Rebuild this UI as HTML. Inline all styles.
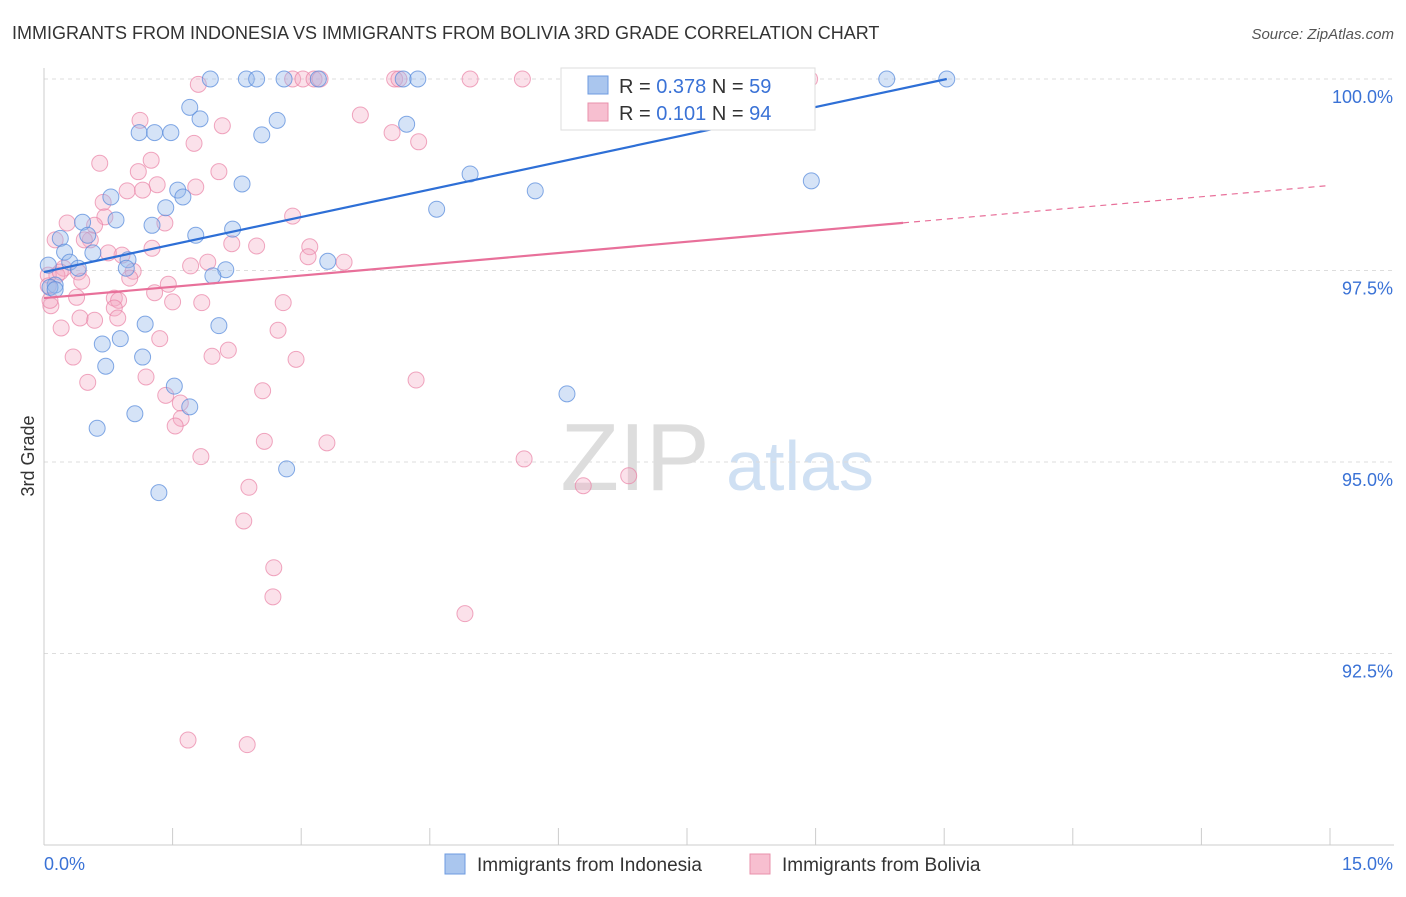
<!DOCTYPE html>
<html><head><meta charset="utf-8"><style>
body{margin:0;background:#fff;font-family:"Liberation Sans",sans-serif}
svg text{font-family:"Liberation Sans",sans-serif}
</style></head><body>
<svg id="chart" width="1406" height="892" xmlns="http://www.w3.org/2000/svg">
<text x="12" y="39" font-size="18" fill="#333">IMMIGRANTS FROM INDONESIA VS IMMIGRANTS FROM BOLIVIA 3RD GRADE CORRELATION CHART</text>
<text x="1394" y="39" font-size="15" fill="#555" font-style="italic" text-anchor="end">Source: ZipAtlas.com</text>
<text x="34" y="456" font-size="18" fill="#333" transform="rotate(-90 34 456)" text-anchor="middle">3rd Grade</text>
<text x="635" y="490" font-size="96" fill="#ddd" font-family="Liberation Serif" text-anchor="middle">ZIP</text>
<text x="800" y="490" font-size="70" fill="#cfe0f3" text-anchor="middle">atlas</text>
<g id="grid"></g><g id="axes"></g><g id="pts"></g><g id="trend"></g>
<g>
<rect x="561" y="68" width="254" height="62" fill="#fff" stroke="#ddd"/>
<rect x="588" y="76" width="20" height="18" fill="#aac6ee" stroke="#6d9be0"/>
<text x="619" y="93" font-size="20" fill="#333">R = <tspan fill="#3a72d6">0.378</tspan>   N = <tspan fill="#3a72d6">59</tspan></text>
<rect x="588" y="103" width="20" height="18" fill="#f7bfd0" stroke="#e990ab"/>
<text x="619" y="120" font-size="20" fill="#333">R =  <tspan fill="#3a72d6">0.101</tspan>   N = <tspan fill="#3a72d6">94</tspan></text>
</g>
<g>
<rect x="445" y="854" width="20" height="20" fill="#aac6ee" stroke="#6d9be0"/>
<text x="477" y="871" font-size="19" fill="#333">Immigrants from Indonesia</text>
<rect x="750" y="854" width="20" height="20" fill="#f7bfd0" stroke="#e990ab"/>
<text x="782" y="871" font-size="19" fill="#333">Immigrants from Bolivia</text>
</g>
</svg>
<script>
const yTicks=[100,97.5,95,92.5];
const yTickLabels=["100.0%","97.5%","95.0%","92.5%"];
const xTicks=[0,1.5,3,4.5,6,7.5,9,10.5,12,13.5,15];
const xEndLabels=["0.0%","15.0%"];
const blueX=[1.94,2.36,2.48,2.80,3.20,4.19,4.36,9.83,10.53,1.70,1.82,1.11,1.29,1.48,2.54,2.72,4.23,4.97,5.73,8.95,2.31,1.56,1.62,0.78,1.42,4.58,0.45,0.84,1.26,2.20,1.77,0.51,0.19,0.24,0.57,0.30,0.40,0.98,0.96,2.12,1.97,3.31,0.13,0.07,0.13,1.18,2.04,0.89,0.68,1.15,0.72,1.52,1.70,1.06,0.62,6.10,2.83,1.34,0.05];
const blueY=[100,100,100,100,100,100,100,100,100,99.63,99.48,99.30,99.30,99.30,99.27,99.46,99.41,98.76,98.54,98.67,98.63,98.55,98.46,98.46,98.32,98.30,98.13,98.16,98.09,98.04,97.96,97.96,97.92,97.74,97.73,97.61,97.53,97.64,97.53,97.51,97.43,97.62,97.31,97.28,97.25,96.80,96.78,96.61,96.54,96.37,96.25,95.99,95.72,95.63,95.44,95.89,94.91,94.60,97.57];
const pinkX=[1.80,2.90,3.02,3.15,3.22,4.09,4.14,4.97,5.58,8.93,3.69,4.06,4.37,1.12,2.08,1.75,0.65,1.25,1.10,2.04,1.32,0.97,1.15,1.77,0.69,0.71,1.41,0.59,0.27,2.90,2.19,2.48,3.10,3.08,3.50,1.26,0.54,0.13,0.91,0.75,0.47,1.71,1.91,0.23,0.15,0.40,1.04,1.00,0.44,1.45,1.29,0.82,0.87,0.38,0.08,1.50,1.84,2.79,0.82,0.86,0.59,0.42,0.20,2.73,1.35,2.15,1.96,2.94,0.34,0.51,1.19,4.34,2.55,1.42,1.59,1.60,1.53,2.57,3.30,1.83,5.60,6.29,6.82,2.39,2.33,2.68,2.67,4.91,1.68,2.37,0.05,0.07,0.19,0.05];
const pinkY=[99.93,100,100,100,100,100,100,100,100,100,99.53,99.30,99.18,99.46,99.39,99.16,98.90,98.94,98.79,98.79,98.62,98.54,98.55,98.59,98.39,98.20,98.12,98.09,98.12,98.21,97.85,97.82,97.81,97.68,97.61,97.79,97.90,97.90,97.70,97.73,97.90,97.56,97.61,97.53,97.44,97.48,97.49,97.40,97.36,97.32,97.21,97.14,97.11,97.15,97.04,97.09,97.08,97.08,97.01,96.88,96.85,96.88,96.75,96.72,96.61,96.46,96.38,96.34,96.37,96.04,96.11,96.07,95.93,95.87,95.77,95.57,95.47,95.27,95.25,95.07,95.04,94.69,94.82,94.67,94.23,93.62,93.24,93.02,91.37,91.31,97.44,97.11,97.48,97.30];
const blueTrend=[97.48,0.2393];
const pinkTrend=[97.14,0.098];
const pinkSolidEnd=10.02;
const X0=44,X1=1330,Y100=79,PX25=191.5;
const sx=v=>X0+(v/15)*(X1-X0);
const sy=v=>Y100+(100-v)/2.5*PX25;
const NS="http://www.w3.org/2000/svg";
function mk(tag,attrs,parent){const e=document.createElementNS(NS,tag);for(const k in attrs)e.setAttribute(k,attrs[k]);parent.appendChild(e);return e;}
const grid=document.getElementById('grid'),axes=document.getElementById('axes'),pts=document.getElementById('pts'),trend=document.getElementById('trend');
yTicks.forEach((t,i)=>{
 const l=mk('line',{x1:X0,x2:1394,y1:sy(t),y2:sy(t),stroke:'#ddd','stroke-dasharray':'4,4'},grid);
 
 
 const tx=mk('text',{x:1393,y:sy(t)+24,'font-size':18,fill:'#3a72d6','text-anchor':'end'},axes);
 tx.textContent=yTickLabels[i];
 
 
});
const ax=mk('line',{x1:X0,x2:1394,y1:845,y2:845,stroke:'#ccc'},axes);


const ay=mk('line',{x1:X0,x2:X0,y1:68,y2:845,stroke:'#ccc'},axes);


xTicks.forEach(t=>{
 const l=mk('line',{x1:sx(t),x2:sx(t),y1:828,y2:845,stroke:'#ccc'},axes);
 
 
});
const xl0=mk('text',{x:44,y:870,'font-size':18,fill:'#3a72d6'},axes);xl0.textContent=xEndLabels[0];


const xl1=mk('text',{x:1393,y:870,'font-size':18,fill:'#3a72d6','text-anchor':'end'},axes);xl1.textContent=xEndLabels[1];


pinkX.forEach((v,i)=>{
 const c=mk('circle',{cx:sx(v),cy:sy(pinkY[i]),r:8,fill:'rgba(244,170,195,0.35)',stroke:'rgba(233,130,165,0.7)','stroke-width':1},pts);
 
 
});
blueX.forEach((v,i)=>{
 const c=mk('circle',{cx:sx(v),cy:sy(blueY[i]),r:8,fill:'rgba(150,185,235,0.4)',stroke:'rgba(90,140,220,0.75)','stroke-width':1},pts);
 
 
});
const bEnd=10.53;
const bl=mk('line',{x1:sx(0),y1:sy(blueTrend[0]),x2:sx(bEnd),y2:sy(blueTrend[0]+blueTrend[1]*bEnd),stroke:'#2e6fd6','stroke-width':2.2},trend);


const pl=mk('line',{x1:sx(0),y1:sy(pinkTrend[0]),x2:sx(pinkSolidEnd),y2:sy(pinkTrend[0]+pinkTrend[1]*pinkSolidEnd),stroke:'#e8709a','stroke-width':2.2},trend);


const pd=mk('line',{x1:sx(pinkSolidEnd),y1:sy(pinkTrend[0]+pinkTrend[1]*pinkSolidEnd),x2:sx(15),y2:sy(pinkTrend[0]+pinkTrend[1]*15),stroke:'#e8709a','stroke-width':1.2,'stroke-dasharray':'6,5'},trend);


</script>
</body></html>
